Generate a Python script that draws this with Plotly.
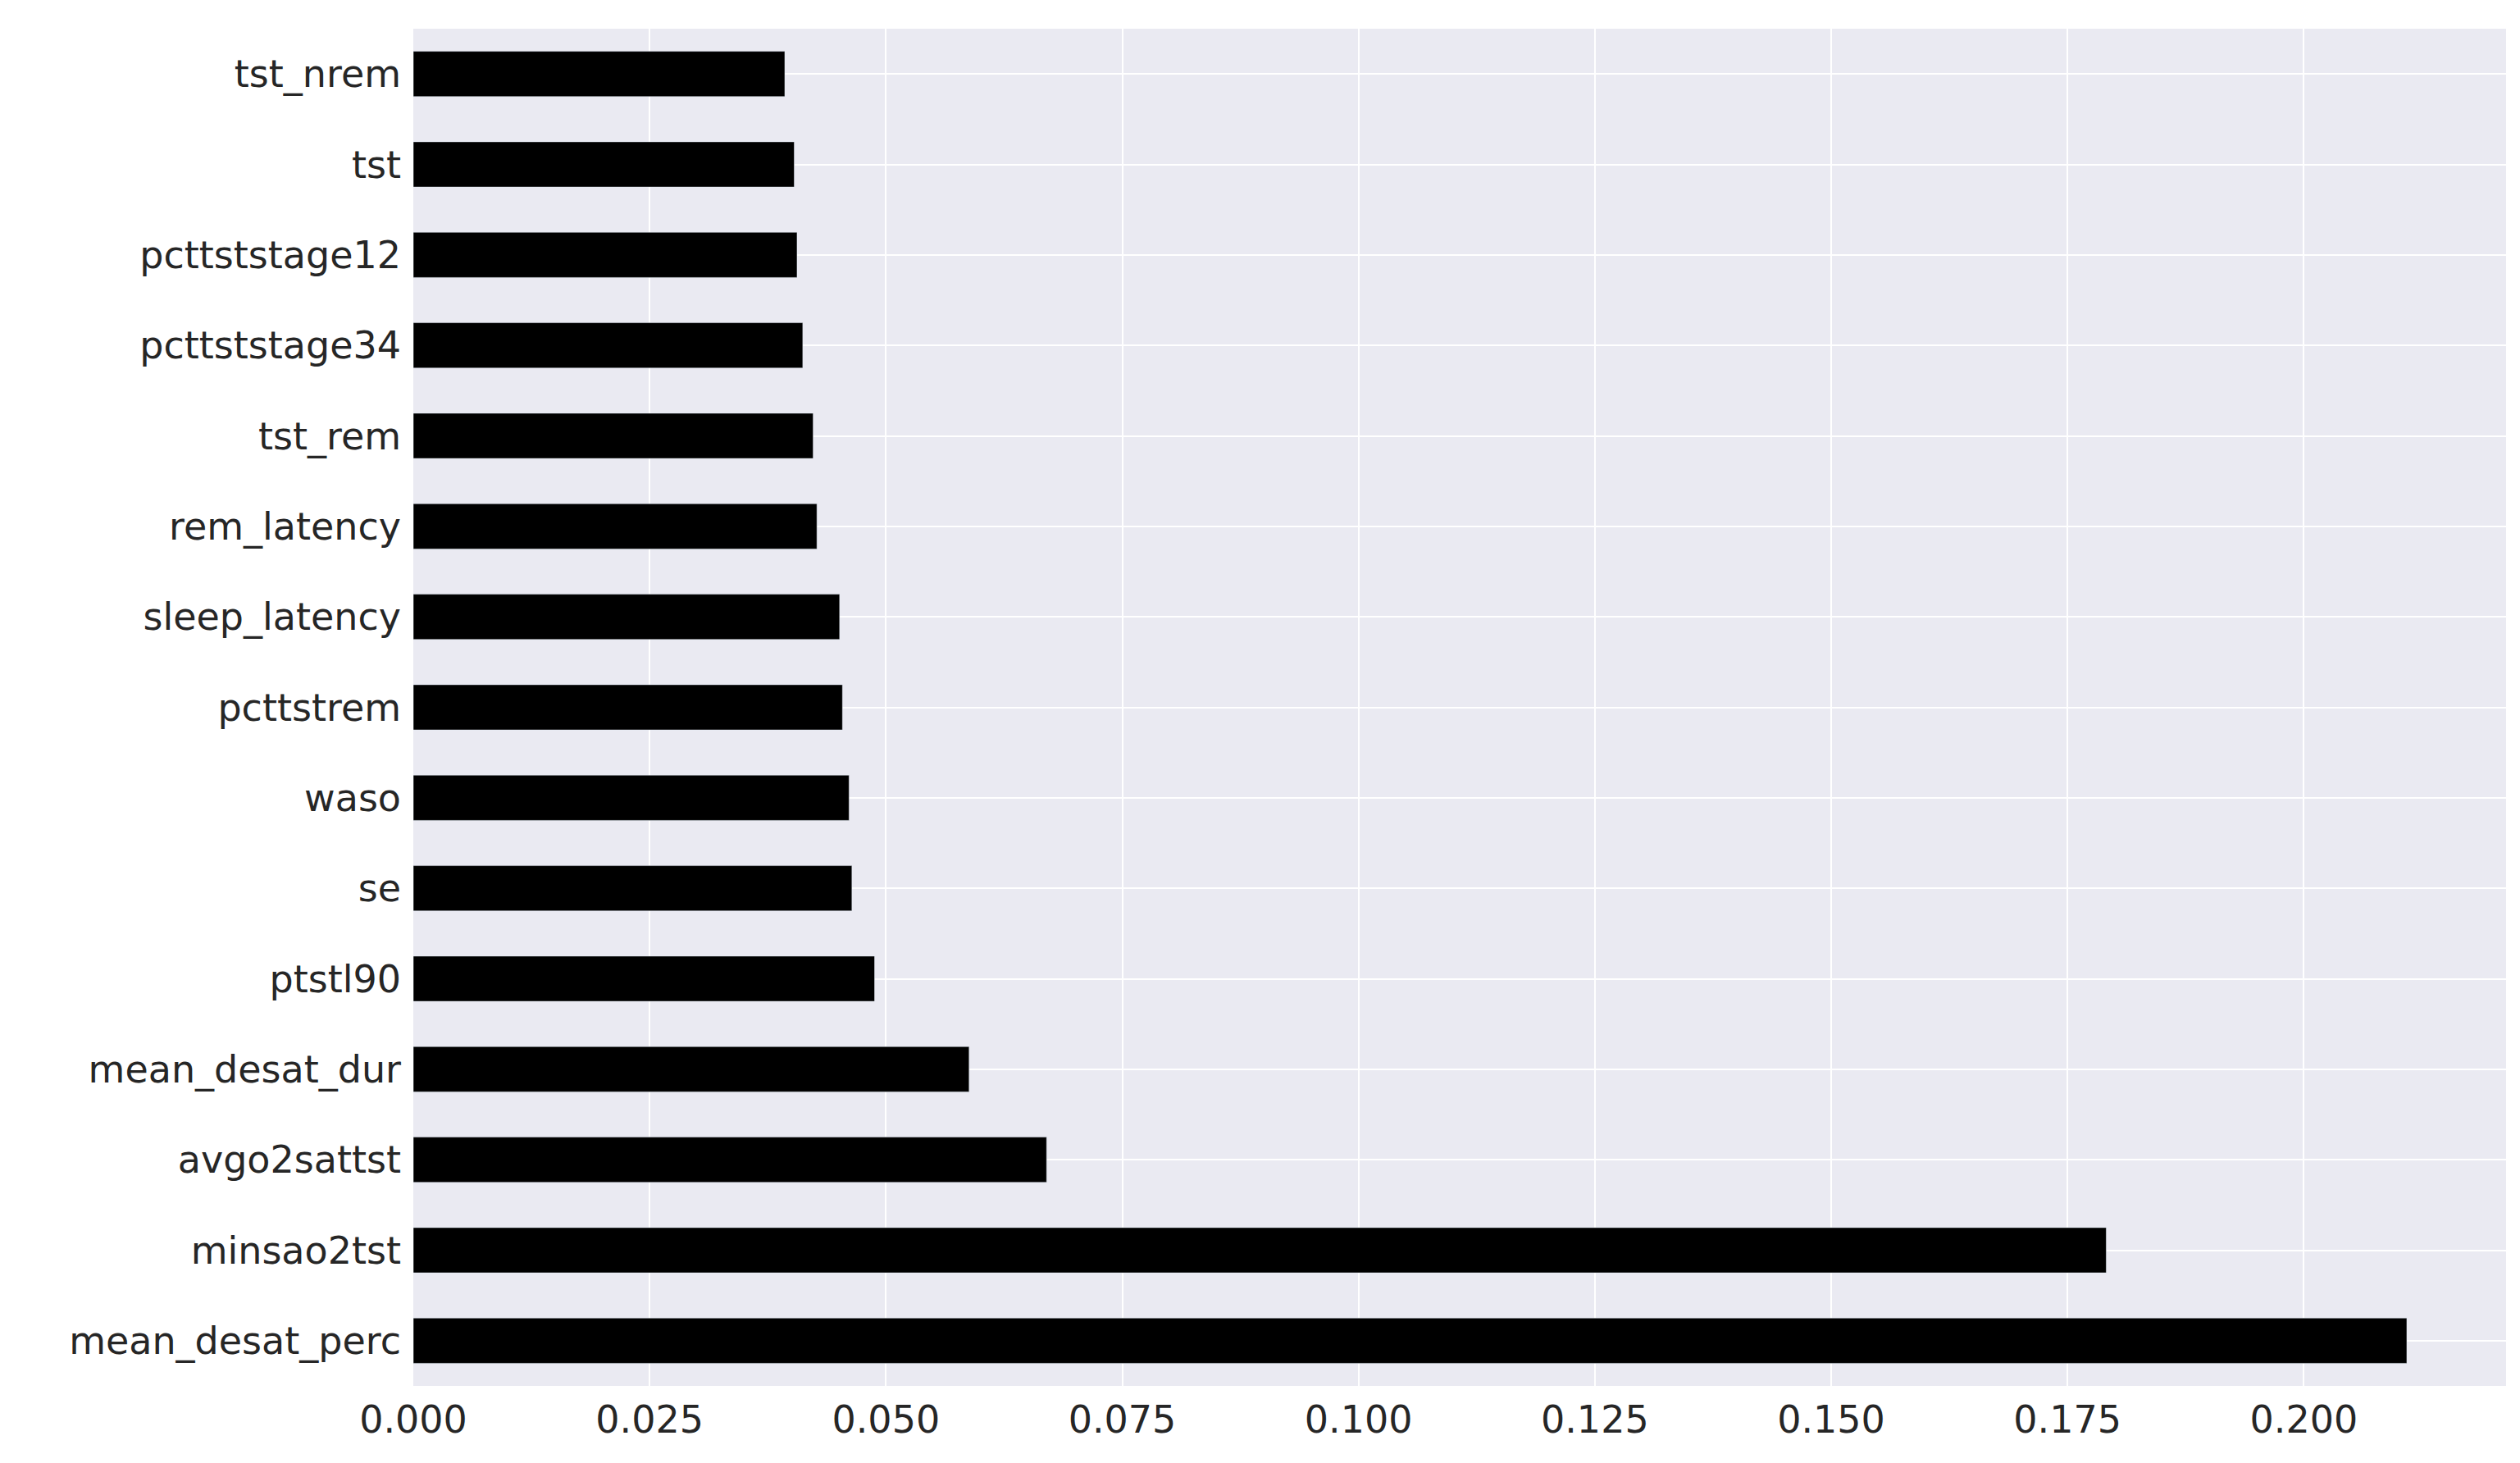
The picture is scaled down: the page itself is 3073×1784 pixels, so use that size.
import plotly.graph_objects as go

features = ["mean_desat_perc","minsao2tst","avgo2sattst","mean_desat_dur","ptstl90","se","waso",
            "pcttstrem","sleep_latency","rem_latency","tst_rem","pcttststage34","pcttststage12","tst","tst_nrem"]
importance = [0.2109,0.1791,0.0670,0.0588,0.0488,0.0464,0.0461,0.0454,0.0451,0.0427,0.0423,0.0412,0.0406,0.0403,0.0393]
tickvals = [0,0.025,0.05,0.075,0.1,0.125,0.15,0.175,0.2]
ticktext = ["0.000","0.025","0.050","0.075","0.100","0.125","0.150","0.175","0.200"]

fig = go.Figure(go.Bar(x=importance, y=features, orientation="h", marker_color="black", width=0.5))
fig.update_layout(
    width=3073, height=1784, paper_bgcolor="white", plot_bgcolor="#EAEAF2",
    margin=dict(l=496, r=25, t=27, b=102),
    font=dict(family="DejaVu Sans", size=46, color="#262626"),
    showlegend=False,
)
fig.update_xaxes(range=[0, 0.2214], tickvals=tickvals, ticktext=ticktext, gridcolor="white",
                 gridwidth=2, zeroline=False, showline=False, ticks="", ticklabelstandoff=10)
fig.update_yaxes(range=[-0.5, 14.5], showgrid=True, gridcolor="white", gridwidth=2, ticks="",
                 ticklabelstandoff=14)
fig.write_html("out.html")
